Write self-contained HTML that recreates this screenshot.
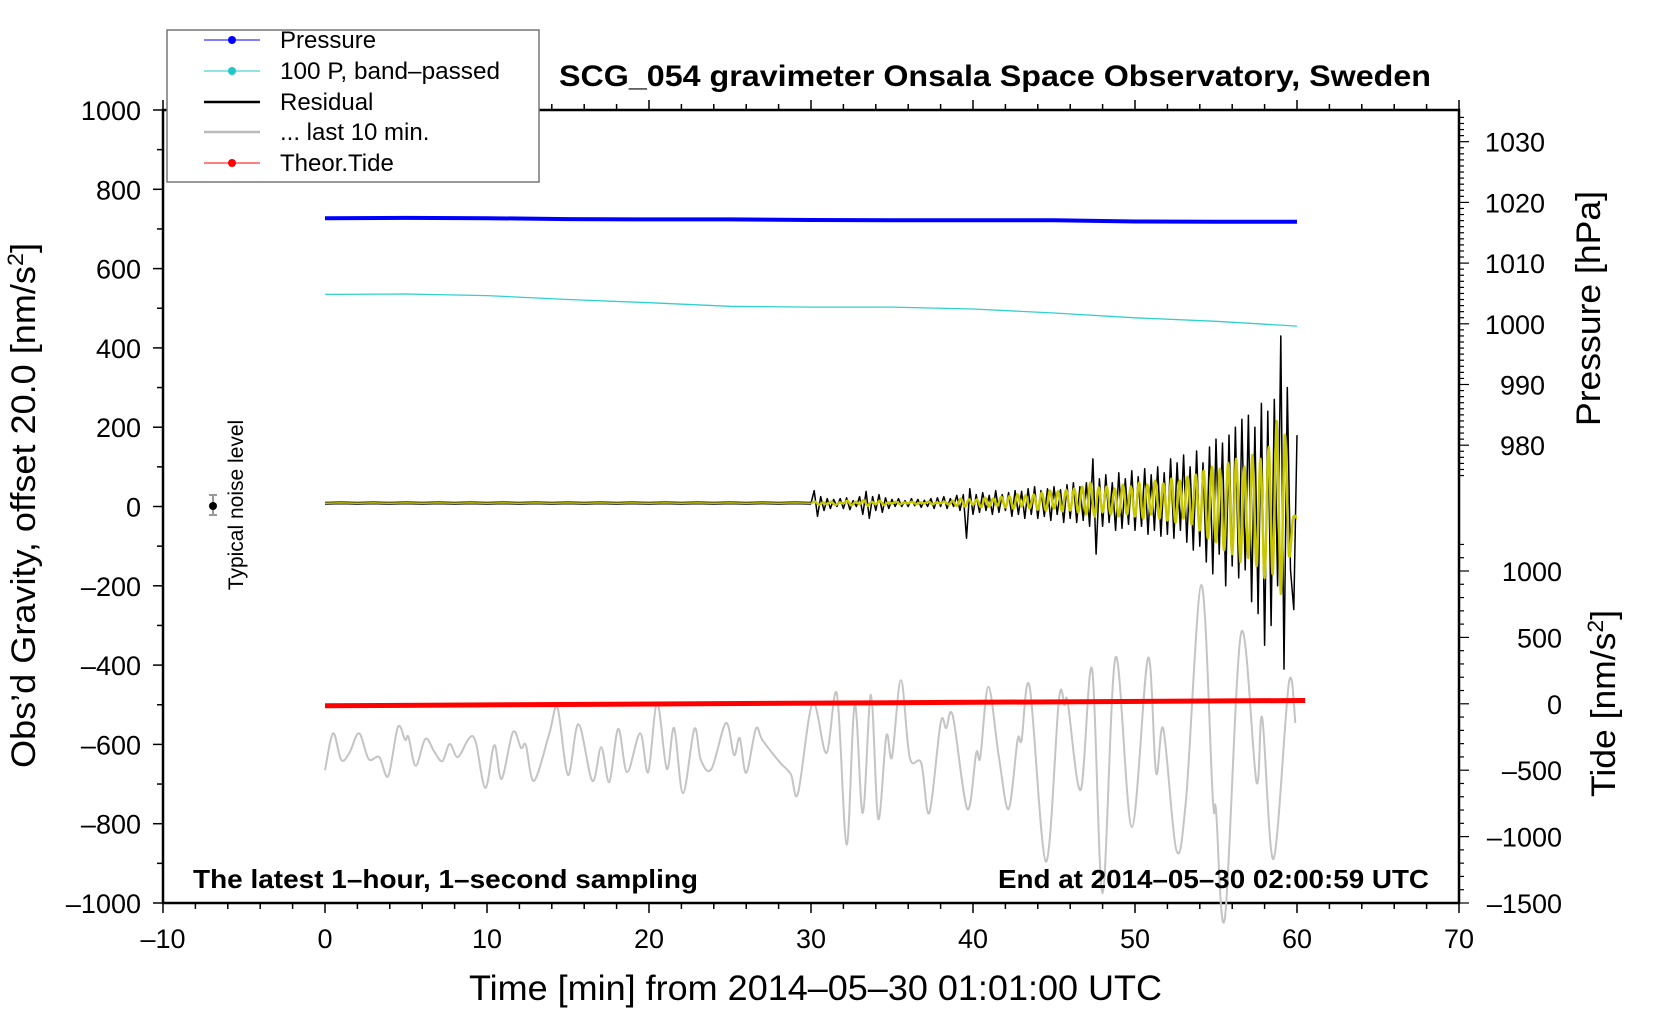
<!DOCTYPE html>
<html><head><meta charset="utf-8"><style>
html,body{margin:0;padding:0;background:#fff;}
svg text{font-family:"Liberation Sans",Arial,sans-serif;}
</style></head><body>
<svg id="chart" width="1660" height="1020" viewBox="0 0 1660 1020" xmlns="http://www.w3.org/2000/svg">
<g id="axes"></g>
<g id="series"></g>
<g id="labels">
<text x="559" y="86" font-size="30" font-weight="bold" textLength="872" lengthAdjust="spacingAndGlyphs">SCG_054 gravimeter Onsala Space Observatory, Sweden</text>
<text x="193" y="888" font-size="26" font-weight="bold" textLength="505" lengthAdjust="spacingAndGlyphs">The latest 1–hour, 1–second sampling</text>
<text x="998" y="888" font-size="26" font-weight="bold" textLength="431" lengthAdjust="spacingAndGlyphs">End at 2014–05–30 02:00:59 UTC</text>
<text x="469" y="1000" font-size="35" textLength="693" lengthAdjust="spacingAndGlyphs">Time [min] from 2014–05–30 01:01:00 UTC</text>
<text transform="translate(35,768) rotate(-90)" font-size="34" textLength="525" lengthAdjust="spacingAndGlyphs">Obs’d Gravity, offset 20.0 [nm/s<tspan baseline-shift="super" font-size="22">2</tspan>]</text>
<text transform="translate(1600,426) rotate(-90)" font-size="34" textLength="235" lengthAdjust="spacingAndGlyphs">Pressure [hPa]</text>
<text transform="translate(1615,797) rotate(-90)" font-size="34" textLength="187" lengthAdjust="spacingAndGlyphs">Tide [nm/s<tspan baseline-shift="super" font-size="22">2</tspan>]</text>
<text transform="translate(243,505) rotate(-90)" font-size="21" text-anchor="middle">Typical noise level</text>
<line x1="213" y1="495" x2="213" y2="515" stroke="#999" stroke-width="2"/>
<line x1="209" y1="495" x2="217" y2="495" stroke="#999" stroke-width="2"/>
<line x1="209" y1="515" x2="217" y2="515" stroke="#999" stroke-width="2"/>
<circle cx="213" cy="506" r="4" fill="#000"/>
</g>
<g id="legend">
<rect x="167" y="30" width="372" height="152" fill="#fff" stroke="#777" stroke-width="1.5"/>
<g><line x1="204" y1="40" x2="260" y2="40" stroke="#00f" stroke-width="1"/><circle cx="232" cy="40" r="4" fill="#00f"/><text x="280" y="48" font-size="24">Pressure</text></g>
<g><line x1="204" y1="71" x2="260" y2="71" stroke="#20c8c8" stroke-width="1"/><circle cx="232" cy="71" r="4" fill="#20c8c8"/><text x="280" y="79" font-size="24" textLength="220" lengthAdjust="spacingAndGlyphs">100 P, band–passed</text></g>
<g><line x1="204" y1="102" x2="260" y2="102" stroke="#000" stroke-width="2.5"/><text x="280" y="110" font-size="24">Residual</text></g>
<g><line x1="204" y1="132" x2="260" y2="132" stroke="#bbb" stroke-width="2.5"/><text x="280" y="140" font-size="24">... last 10 min.</text></g>
<g><line x1="204" y1="163" x2="260" y2="163" stroke="#f00" stroke-width="1"/><circle cx="232" cy="163" r="4" fill="#f00"/><text x="280" y="171" font-size="24">Theor.Tide</text></g>
</g>
</svg>
<script>
// ---- data ----
const xTicks = [-10,0,10,20,30,40,50,60,70];
const yTicks = [1000,800,600,400,200,0,-200,-400,-600,-800,-1000];
const pTicks = [1030,1020,1010,1000,990,980];
const tideTicks = [1000,500,0,-500,-1000,-1500];
const pressureT = [0,5,10,15,20,25,30,35,40,45,50,55,60];
const pressureV = [1017.4,1017.45,1017.4,1017.25,1017.2,1017.2,1017.1,1017.05,1017.05,1017.05,1016.85,1016.8,1016.8];
const bandT = [0,5,10,15,20,25,30,35,40,45,50,55,60];
const bandV = [535,536,532,522,514,505,503,503,498,488,476,467,455];
const tideT = [0,60.5];
const tideV = [-15,25];
const grayT = [0,0.5,1.0,1.5,2.1,2.7,3.35,3.9,4.5,4.95,5.15,5.6,6.2,6.75,7.25,7.7,8.2,8.9,9.3,9.9,10.45,10.9,11.6,12.1,12.4,12.9,13.85,14.35,15.0,15.65,16.5,17.05,17.55,18.1,18.65,19.45,19.95,20.5,21.1,21.55,22.1,22.8,23.2,23.85,24.75,25.25,25.6,26.0,26.6,27.0,28.05,28.75,29.2,30.1,30.95,31.6,32.2,32.7,33.2,33.7,34.15,34.65,35.0,35.55,36.1,36.8,37.3,38.0,38.35,38.75,39.65,40.2,40.45,40.95,41.6,42.2,42.75,43.0,43.5,44.5,45.3,45.65,45.85,46.65,47.35,48.0,48.8,49.8,50.8,51.3,51.75,52.55,53.15,54.1,54.8,55.0,55.55,56.55,57.5,57.85,58.55,59.5,59.9];
const grayV = [-665,-572,-639,-622,-572,-637,-632,-680,-556,-589,-581,-654,-586,-619,-642,-599,-632,-584,-594,-710,-602,-687,-569,-609,-602,-692,-572,-508,-677,-549,-692,-607,-695,-561,-670,-572,-670,-496,-662,-559,-723,-561,-639,-662,-546,-627,-584,-672,-561,-589,-644,-675,-723,-496,-622,-473,-853,-498,-773,-475,-788,-579,-632,-438,-634,-647,-773,-546,-559,-528,-763,-622,-632,-455,-632,-763,-589,-589,-455,-896,-488,-501,-496,-715,-410,-975,-380,-808,-382,-672,-561,-866,-740,-198,-735,-765,-1038,-319,-695,-533,-889,-445,-546];
const quietV = [8,9,8,9,8,9,8,9,8,9,8,9,8,9,8,9,8,9,8,9,8,9,8,9,8,9,8,9,8,9,8];
const residStart = 30, residStep = 0.2;
const residV = [8,40,-25,25,-10,20,-5,18,0,20,
-5,22,-8,15,0,25,-20,38,-30,25,
-10,30,-15,22,-5,18,0,20,0,15,
0,20,2,18,-2,16,0,20,-5,22,
0,25,-5,20,0,28,-10,30,-80,45,
-20,30,-15,35,-10,28,-20,40,-15,30,
-10,35,-25,40,-20,38,-30,45,-20,50,
-30,40,-25,45,-35,50,-20,42,-40,55,
-30,60,-40,50,-35,60,-50,120,-120,70,
-50,80,-40,60,-60,85,-55,70,-45,90,
-60,75,-50,95,-70,80,-60,100,-75,85,
-70,120,-80,110,-60,130,-90,100,-110,140,
-100,110,-140,150,-170,170,-120,160,-200,180,
-150,200,-180,220,-160,230,-240,200,-270,260,
-350,240,-300,270,-200,430,-410,300,-160,-260,
180];
const yellowStart = 30, yellowStep = 0.25;
const yellowV = [8,12,5,10,6,12,4,10,
8,14,3,12,6,16,2,12,
6,14,4,10,8,12,6,10,
8,12,6,10,8,12,6,10,
8,12,5,14,2,20,0,18,
4,18,-2,22,0,20,2,24,
-2,26,-5,30,0,28,-5,30,
-8,35,-10,40,-5,38,-12,42,
-10,45,-15,50,-20,60,-25,48,
-15,50,-20,45,-25,55,-20,50,
-25,60,-30,55,-20,65,-30,58,
-35,70,-40,65,-30,75,-45,80,
-60,90,-80,100,-90,95,-110,110,
-120,120,-140,100,-130,130,-150,120,
-180,150,-170,215,-220,180,-120,-30,
-30];

// ---- scales ----
const X0=163, X1=1459, Y0=110, Y1=903;
const xs = t => X0 + (t+10)/80*(X1-X0);
const ys = v => Y0 + (1000-v)/2000*(Y1-Y0);
const ps = p => 141.7 + (1030-p)*6.07;
const ts = v => 571 + (1000-v)*(66.4/500);
const NS="http://www.w3.org/2000/svg";
const axes=document.getElementById('axes'), series=document.getElementById('series');
function mk(tag,parent,attrs){const e=document.createElementNS(NS,tag);for(const k in attrs)e.setAttribute(k,attrs[k]);parent.appendChild(e);return e;}

const frame=mk('rect',axes,{x:X0,y:Y0,width:X1-X0,height:Y1-Y0,fill:'none',stroke:'#000','stroke-width':2.5});


for(let t=-10;t<=70;t+=2){
  const major=t%10===0, L=major?10:6;
  mk('line',axes,{x1:xs(t),y1:Y1,x2:xs(t),y2:Y1+L,stroke:'#000','stroke-width':1.5});
  mk('line',axes,{x1:xs(t),y1:Y0,x2:xs(t),y2:Y0-L,stroke:'#000','stroke-width':1.5});
}
xTicks.forEach(t=>{
  const tx=mk('text',axes,{x:xs(t),y:948,'font-size':27,'text-anchor':'middle'});
  tx.textContent=String(t).replace('-','–');
  
  
});
for(let v=-1000;v<=1000;v+=100){
  const L=v%200===0?10:6;
  mk('line',axes,{x1:X0,y1:ys(v),x2:X0-L,y2:ys(v),stroke:'#000','stroke-width':1.5});
}
yTicks.forEach(v=>{
  const tx=mk('text',axes,{x:141,y:ys(v)+10,'font-size':27,'text-anchor':'end'});
  tx.textContent=String(v).replace('-','–');
  
  
});
for(let p=1034;p>=975;p--){
  const L=p%10===0?10:5;
  mk('line',axes,{x1:X1,y1:ps(p),x2:X1+L,y2:ps(p),stroke:'#000','stroke-width':1.2});
}
pTicks.forEach(p=>{
  const tx=mk('text',axes,{x:1545,y:ps(p)+10,'font-size':27,'text-anchor':'end'});
  tx.textContent=String(p);
  
  
});
for(let v=1200;v>=-1500;v-=100){
  const L=v%500===0?10:5;
  mk('line',axes,{x1:X1,y1:ts(v),x2:X1+L,y2:ts(v),stroke:'#000','stroke-width':1.2});
}
tideTicks.forEach(v=>{
  const tx=mk('text',axes,{x:1562,y:ts(v)+10,'font-size':27,'text-anchor':'end'});
  tx.textContent=String(v).replace('-','–');
  
  
});

function poly(pts,stroke,w,name){
  const e=mk('polyline',series,{points:pts.map(p=>p[0].toFixed(1)+','+p[1].toFixed(1)).join(' '),fill:'none',stroke:stroke,'stroke-width':w,'stroke-linejoin':'round'});
  
  
  return e;
}
function smooth(pts,stroke,w,name){
  let d='M'+pts[0][0].toFixed(1)+','+pts[0][1].toFixed(1);
  for(let i=0;i<pts.length-1;i++){
    const p0=pts[Math.max(0,i-1)],p1=pts[i],p2=pts[i+1],p3=pts[Math.min(pts.length-1,i+2)];
    const c1=[p1[0]+(p2[0]-p0[0])/6,p1[1]+(p2[1]-p0[1])/6];
    const c2=[p2[0]-(p3[0]-p1[0])/6,p2[1]-(p3[1]-p1[1])/6];
    d+=' C'+c1.map(v=>v.toFixed(1)).join(',')+' '+c2.map(v=>v.toFixed(1)).join(',')+' '+p2.map(v=>v.toFixed(1)).join(',');
  }
  const e=mk('path',series,{d:d,fill:'none',stroke:stroke,'stroke-width':w});
  
  
  return e;
}
smooth(grayT.map((t,i)=>[xs(t),ys(grayV[i])]),'#c4c4c4',2,'last-10-min-line');
poly(tideT.map((t,i)=>[xs(t),ts(tideV[i])]),'#f00',5,'theor-tide-line');
poly(pressureT.map((t,i)=>[xs(t),ps(pressureV[i])]),'#00f',4,'pressure-line');
poly(bandT.map((t,i)=>[xs(t),ys(bandV[i])]),'#30d0d0',1.3,'band-passed-line');
poly(quietV.map((v,i)=>[xs(i),ys(v)]),'#000',3,'residual-quiet-line');
poly(quietV.map((v,i)=>[xs(i),ys(v)]),'#c8c800',1.5,'filtered-quiet-line');
poly(residV.map((v,i)=>[xs(residStart+i*residStep),ys(v)]),'#000',1.5,'residual-line');
smooth(yellowV.map((v,i)=>[xs(yellowStart+i*yellowStep),ys(v)]),'#c8c800',2.5,'filtered-residual-line');
</script>
</body></html>
